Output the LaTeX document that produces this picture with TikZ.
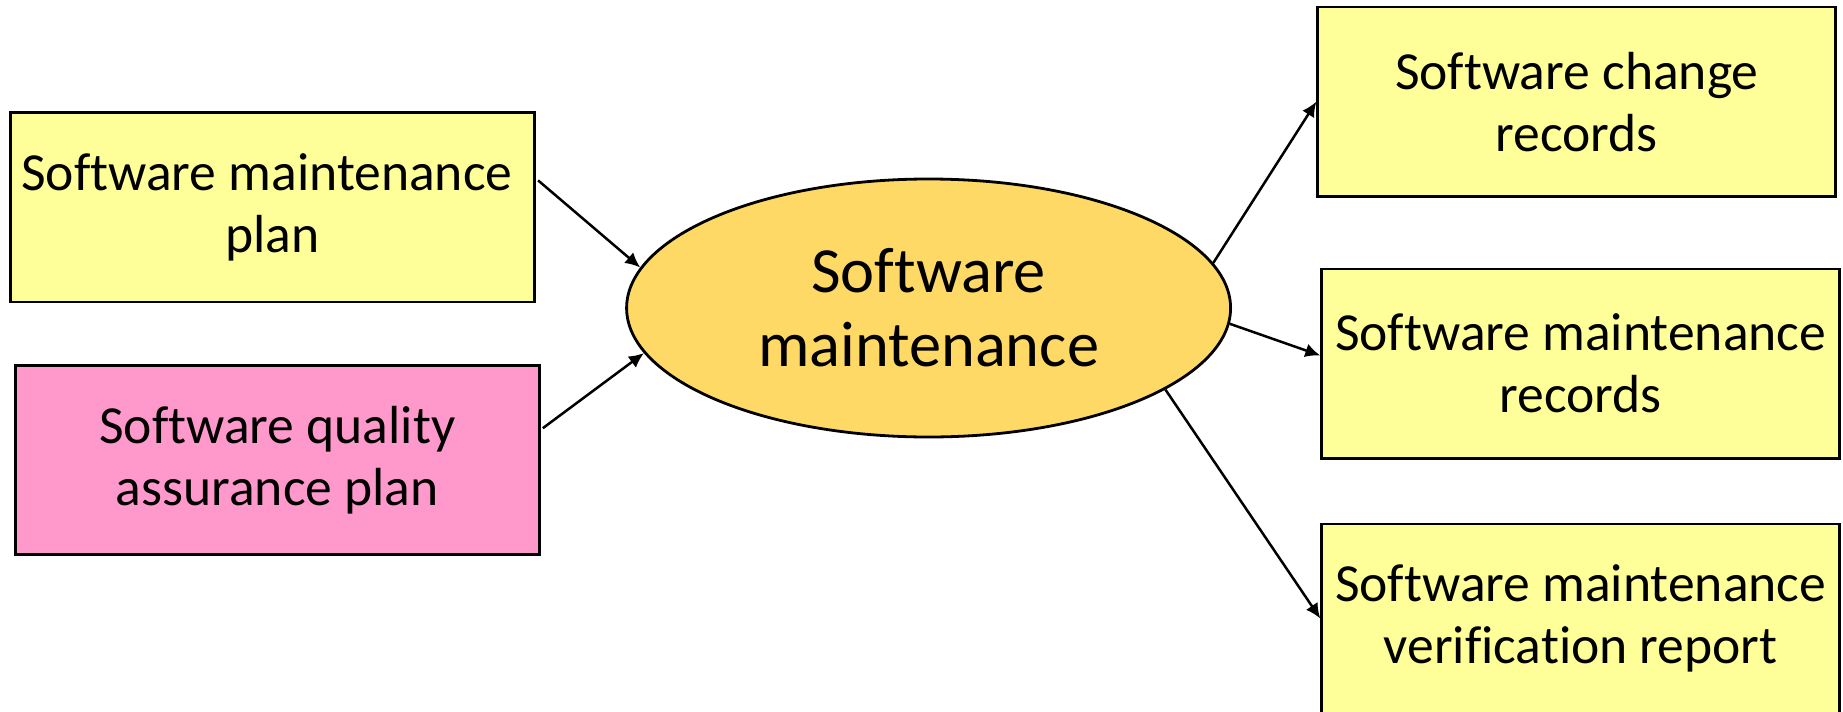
\documentclass[tikz,border=0pt]{standalone}
\usepackage{fontspec}
\setmainfont{Carlito}[Ligatures=CommonOff]
\usetikzlibrary{arrows.meta,shapes.geometric,calc}
\definecolor{boxyellow}{HTML}{FFFF99}
\definecolor{boxpink}{HTML}{FF99CC}
\definecolor{ovalgold}{HTML}{FFD966}

\begin{document}
\begin{tikzpicture}[x=0.5pt,y=-0.5pt,
  doc/.style={draw=black, line width=1.4pt, fill=boxyellow,
    minimum width=259pt, minimum height=94.6pt, inner sep=0pt,
    align=center, font=\fontsize{26.8}{31}\selectfont},
  activity/.style={ellipse, draw=black, line width=1.4pt, fill=ovalgold,
    minimum width=302pt, minimum height=129pt, inner sep=0pt,
    align=center, font=\fontsize{32.2}{37}\selectfont},
  flow/.style={line width=1.25pt, -{Latex[length=7.5pt,width=7pt]}}
]
\useasboundingbox (0,0) rectangle (1843,712);

% inputs
\node[doc, minimum width=262pt] (smp) at (272.7,207.4) {Software maintenance\hspace*{0.22em}\\ plan};
\node[doc, fill=boxpink, minimum width=262pt] (sqap) at (277.4,460.2) {Software quality\\assurance plan};

% activity
\node[activity] (sm) at (928.6,308) {Software\\maintenance};

% outputs
\node[doc] (scr) at (1576.8,101.6) {Software change\\records};
\node[doc] (smr) at (1580.7,363.5) {Software maintenance\\records};
\node[doc] (smvr) at (1580.7,618.5) {Software maintenance\\verification report};

% connectors
\draw[flow] ($(smp.east)+(2,-27)$) -- (sm.172);
\draw[flow] ($(sqap.east)+(2,-32)$) -- (sm.189);
\draw[flow] (sm.9) -- (scr.west);
\draw[flow] (sm.-3) -- ($(smr.west)+(0,-8)$);
\draw[flow] (sm.-19.5) -- (smvr.west);
\end{tikzpicture}
\end{document}
